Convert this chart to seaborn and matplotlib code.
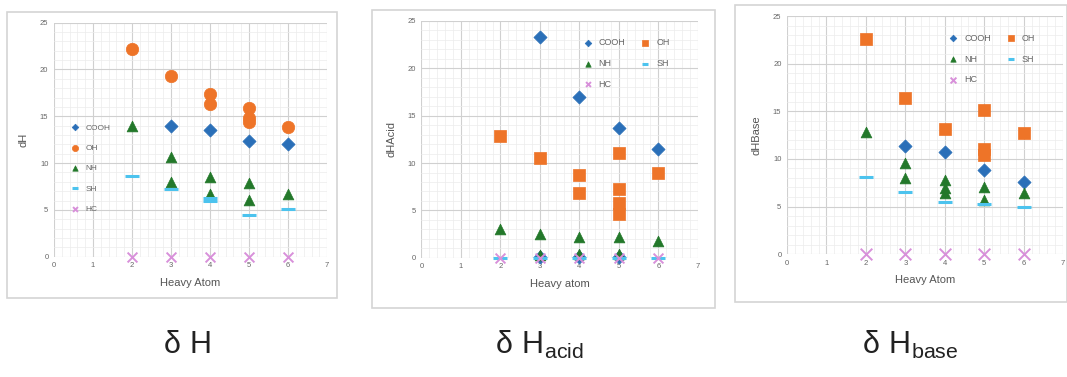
import matplotlib
matplotlib.use("Agg")
import matplotlib.pyplot as plt
from matplotlib.patches import Rectangle
from matplotlib.ticker import MultipleLocator
import pandas as pd
import seaborn as sns

sns.set_style("white")
plt.rcParams['font.family'] = ['Liberation Sans', 'DejaVu Sans']

groups = ['COOH', 'OH', 'NH', 'SH', 'HC']
colors = {'COOH': '#2a6fb8', 'OH': '#ee7428', 'NH': '#23782a', 'SH': '#4cc3ee', 'HC': '#d890da'}

# panel 1: dH
dh_x = {
    'COOH': [3, 4, 5, 6],
    'OH': [2, 3, 4, 4, 5, 5, 5, 6],
    'NH': [2, 3, 3, 4, 4, 5, 5, 6],
    'SH': [2, 3, 4, 4, 5, 6],
    'HC': [2, 3, 4, 5, 6],
}
dh_y = {
    'COOH': [13.95, 13.5, 12.4, 12.0],
    'OH': [22.2, 19.3, 17.4, 16.3, 15.85, 14.8, 14.4, 13.85],
    'NH': [14.0, 10.7, 8.0, 8.5, 6.7, 7.9, 6.05, 6.7],
    'SH': [8.6, 7.2, 6.3, 5.9, 4.45, 5.05],
    'HC': [0, 0, 0, 0, 0],
}

# panel 2: dHAcid
acid_x = {
    'COOH': [3, 4, 5, 6, 3, 4, 5],
    'OH': [2, 3, 4, 4, 5, 5, 5, 5, 6],
    'NH': [2, 3, 4, 5, 6, 3, 4, 5],
    'SH': [2, 3, 4, 5, 6],
    'HC': [2, 3, 4, 5, 6],
}
acid_y = {
    'COOH': [23.3, 17.0, 13.7, 11.5, 0.05, 0.05, 0.05],
    'OH': [12.8, 10.5, 8.7, 6.8, 11.05, 7.3, 5.8, 4.6, 9.0],
    'NH': [3.05, 2.55, 2.15, 2.15, 1.75, 0.35, 0.4, 0.4],
    'SH': [0, 0, 0, 0, 0],
    'HC': [0, 0, 0, 0, 0],
}

# panel 3: dHBase
base_x = {
    'COOH': [3, 4, 5, 6],
    'OH': [2, 3, 4, 5, 5, 5, 6],
    'NH': [2, 3, 3, 4, 4, 4, 5, 5, 6],
    'SH': [2, 3, 4, 5, 6],
    'HC': [2, 3, 4, 5, 6],
}
base_y = {
    'COOH': [11.4, 10.7, 8.8, 7.6],
    'OH': [22.6, 16.4, 13.1, 15.1, 11.0, 10.4, 12.75],
    'NH': [12.8, 9.6, 8.0, 7.8, 6.9, 6.4, 7.1, 5.7, 6.4],
    'SH': [8.05, 6.5, 5.5, 5.25, 4.9],
    'HC': [0, 0, 0, 0, 0],
}

ylabels = ['dH', 'dHAcid', 'dHBase']
xlabels = ['Heavy Atom', 'Heavy atom', 'Heavy Atom']
captions = [r'$\mathregular{\delta\ H}$', r'$\mathregular{\delta\ H_{acid}}$', r'$\mathregular{\delta\ H_{base}}$']

fig = plt.figure(figsize=(10.67, 3.77), dpi=100)

boxes = [(0.0066, 0.2095, 0.309, 0.759), (0.3486, 0.183, 0.3215, 0.790), (0.6889, 0.199, 0.311, 0.788)]
axpos = [(0.0506, 0.319, 0.256, 0.621), (0.395, 0.316, 0.259, 0.629), (0.7376, 0.326, 0.2587, 0.631)]
cap_x = [0.175, 0.506, 0.853]

for b in boxes:
    fig.patches.append(Rectangle(b[:2], b[2], b[3], transform=fig.transFigure,
                                 fill=False, edgecolor='#d4d4d4', linewidth=1.2))

panels = [(dh_x, dh_y), (acid_x, acid_y), (base_x, base_y)]
for i, (px, py) in enumerate(panels):
    ax = fig.add_axes(axpos[i])
    oh_marker = 'o' if i == 0 else 's'
    markers = {'COOH': 'D', 'OH': oh_marker, 'NH': '^', 'SH': '_', 'HC': 'x'}
    sizes = {'COOH': 45, 'OH': 80, 'NH': 60, 'SH': 90, 'HC': 50 if i < 2 else 70}
    for g in groups:
        df = pd.DataFrame({'x': px[g], 'y': py[g]})
        if markers[g] == '_':
            kw = dict(linewidth=2.2)
        elif markers[g] == 'x':
            kw = dict(linewidth=1.4)
        else:
            kw = dict(edgecolor=colors[g], linewidth=0.5)
        sns.scatterplot(data=df, x='x', y='y', ax=ax, marker=markers[g], s=sizes[g],
                        color=colors[g], label=g, zorder=3, clip_on=False, **kw)
    ax.set_xlim(0, 7)
    ax.set_ylim(0, 25)
    ax.xaxis.set_major_locator(MultipleLocator(1))
    ax.xaxis.set_minor_locator(MultipleLocator(0.2))
    ax.yaxis.set_major_locator(MultipleLocator(5))
    ax.yaxis.set_minor_locator(MultipleLocator(1))
    ax.grid(which='major', color='#d0d0d0', linewidth=0.8)
    ax.grid(which='minor', color='#ececec', linewidth=0.5)
    ax.set_axisbelow(True)
    for s in ax.spines.values():
        s.set_visible(False)
    ax.tick_params(which='both', length=0, labelsize=5.5, labelcolor='#666666', pad=4)
    ax.set_xlabel(xlabels[i], fontsize=8, color='#555555', labelpad=6)
    ax.set_ylabel(ylabels[i], fontsize=8, color='#555555', labelpad=8)

    handles, labels = ax.get_legend_handles_labels()
    if i == 0:
        ax.legend(handles, labels, loc='upper left', bbox_to_anchor=(0.02, 0.6), ncol=1,
                  frameon=False, fontsize=6, markerscale=0.5, handletextpad=0.2,
                  labelspacing=1.5, labelcolor='#666666')
    else:
        # row-wise order for two columns
        order = [0, 2, 4, 1, 3]
        ax.legend([handles[k] for k in order], [labels[k] for k in order],
                  loc='upper left', bbox_to_anchor=(0.54, 0.96), ncol=2, frameon=False,
                  fontsize=6.5, markerscale=0.5, handletextpad=0.2, labelspacing=1.3,
                  columnspacing=1.2, labelcolor='#666666')

    fig.text(cap_x[i], 0.085, captions[i], fontsize=22, ha='center', va='center', color='#222222')

fig.savefig('out.png', dpi=100)
